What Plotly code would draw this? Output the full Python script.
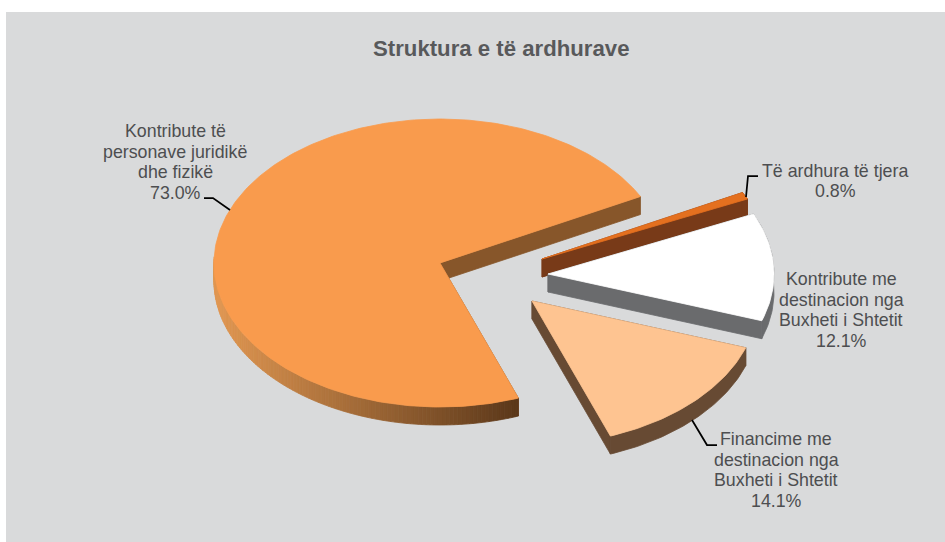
import numpy as np
import plotly.graph_objects as go

# --- data ---
categories = [
    "Kontribute të<br>personave juridikë<br>dhe fizikë",
    "Të ardhura të tjera",
    "Kontribute me<br>destinacion nga<br>Buxheti i Shtetit",
    "Financime me<br>destinacion nga<br>Buxheti i Shtetit",
]
values = [73.0, 0.8, 12.1, 14.1]
title_text = "Struktura e të ardhurave"

# --- drawing style ---
top_colors = ["#F99B4D", "#E4701F", "#FFFFFF", "#FEC491"]
side_colors = ["#87562A", "#783A18", "#6A6B6D", "#674A33"]
tips = [(440, 263), (542, 259), (548, 274), (532, 301)]
label_pos = [(175, 162), (835, 181), (841, 310), (776, 470)]
leaders = [
    [(204, 198), (213, 198), (230, 210)],
    [(758, 176), (748, 176), (746, 197)],
    None,
    [(717, 445), (707, 445), (692, 420)],
]
RX, RY, DEPTH = 226, 144, 18
END_OF_FIRST = 27.5  # ellipse angle (deg) where the first slice ends
LINE_GAP = 20.5
BG, TXT = "#D9DADB", "#4D4E50"


def arc(tip, t0, t1, n=None):
    n = n or max(2, int(abs(t1 - t0)) + 2)
    t = np.radians(np.linspace(t0, t1, n))
    return tip[0] + RX * np.cos(t), tip[1] - RY * np.sin(t)


def poly(x, y, color):
    x, y = list(x), list(y)
    return go.Scatter(x=x + x[:1], y=y + y[:1], mode="lines", fill="toself",
                      fillcolor=color, line=dict(color=color, width=0.8),
                      hoverinfo="skip", showlegend=False)


def lerp(a, b, f):
    f = min(max(f, 0), 1)
    return "rgb(%d,%d,%d)" % tuple(round(a[i] + (b[i] - a[i]) * f) for i in range(3))


fig = go.Figure()
spans = [v / sum(values) * 360 for v in values]
ranges = [(END_OF_FIRST + spans[0], END_OF_FIRST)]
cur = END_OF_FIRST
for s in spans[1:]:
    ranges.append((cur, cur - s))
    cur -= s

for i in range(4):
    hi, lo = ranges[i]
    tip = tips[i]
    # flat cut faces
    for t in (hi, lo):
        ax, ay = arc(tip, t, t, 2)
        fig.add_trace(poly([tip[0], ax[0], ax[0], tip[0]],
                           [tip[1], ay[0], ay[0] + DEPTH, tip[1] + DEPTH], side_colors[i]))
    # rim
    if i == 0:
        edges = np.arange(lo, hi, 1.0).tolist() + [hi]
        for a, b in zip(edges[:-1], edges[1:]):
            if np.sin(np.radians(a)) > 0.05:
                continue
            rx, ry = arc(tip, a, b, 3)
            f = (rx.mean() - 214) / (516 - 214)
            col = lerp((226, 152, 82), (92, 56, 26), f)
            fig.add_trace(poly(list(rx) + list(rx[::-1]),
                               list(ry) + list(ry[::-1] + DEPTH), col))
    else:
        rx, ry = arc(tip, hi, lo)
        fig.add_trace(poly(list(rx) + list(rx[::-1]),
                           list(ry) + list(ry[::-1] + DEPTH), side_colors[i]))
    # top face
    rx, ry = arc(tip, hi, lo)
    fig.add_trace(poly([tip[0]] + list(rx), [tip[1]] + list(ry), top_colors[i]))

for pts in leaders:
    if pts:
        fig.add_trace(go.Scatter(x=[p[0] for p in pts], y=[p[1] for p in pts], mode="lines",
                                 line=dict(color="#000000", width=1.75),
                                 hoverinfo="skip", showlegend=False))

for cat, val, (x, y) in zip(categories, values, label_pos):
    lines = cat.split("<br>") + [f"{val:.1f}%"]
    for k, line in enumerate(lines):
        fig.add_annotation(x=x, y=y + (k - (len(lines) - 1) / 2) * LINE_GAP,
                           xref="x", yref="y", text=line, showarrow=False,
                           font=dict(family="Liberation Sans", size=17.8, color=TXT))

fig.add_annotation(x=500.5, y=48, xref="x", yref="y", text=f"<b>{title_text}</b>", showarrow=False,
                   font=dict(family="Liberation Sans", size=22.2, color="#58595B"))

fig.update_layout(
    width=945, height=542, autosize=False,
    margin=dict(l=6, r=0, t=12, b=0, pad=0),
    paper_bgcolor="#FFFFFF", plot_bgcolor=BG, showlegend=False,
    xaxis=dict(range=[6, 945], visible=False, fixedrange=True),
    yaxis=dict(range=[542, 12], visible=False, fixedrange=True),
)
fig.write_html("out.html", config=dict(displayModeBar=False, responsive=False),
               post_script="document.body.style.margin='0';")
